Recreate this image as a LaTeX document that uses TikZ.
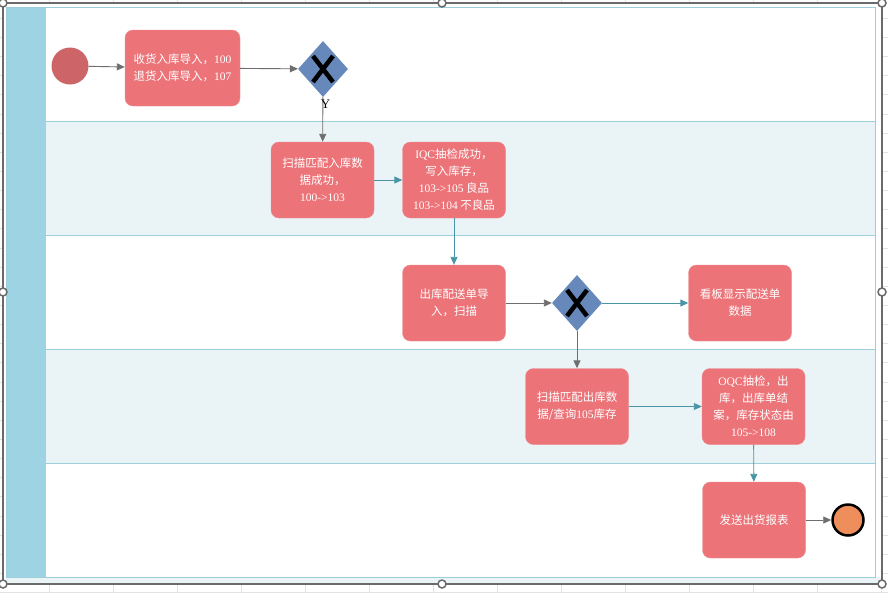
\documentclass[tikz,border=0pt]{standalone}
\usepackage{fontspec}
\setmainfont{Noto Sans CJK SC}
\newfontfamily\tnr{Liberation Serif}
\newcommand\nm[1]{{\tnr #1}}
\usetikzlibrary{arrows.meta,shapes.geometric}
\definecolor{boxfill}{HTML}{EC7479}
\definecolor{startc}{HTML}{CD6467}
\definecolor{endc}{HTML}{EE8E5A}
\definecolor{dia}{HTML}{6688BB}
\definecolor{lanelight}{HTML}{EAF4F7}
\definecolor{band}{HTML}{9DD3E3}
\definecolor{laneline}{HTML}{9CCFDB}
\definecolor{agray}{HTML}{6E6E6E}
\definecolor{ateal}{HTML}{4A95A5}
\definecolor{gridc}{HTML}{E2E2E2}
\definecolor{framec}{HTML}{6A6A6A}
\begin{document}
\begin{tikzpicture}[x=1pt,y=-1pt,
  box/.style={draw=boxfill!85!white, fill=boxfill, rounded corners=8pt, text=white, align=center,
    inner sep=0pt, minimum width=103pt, minimum height=76pt, font=\fontsize{11.5}{17}\selectfont},
  gate/.style={diamond, fill=dia, minimum width=50pt, minimum height=56pt, inner sep=0pt},
  garrow/.style={draw=agray, line width=0.9pt, -{Triangle[length=8pt,width=7pt]}},
  tarrow/.style={draw=ateal, line width=0.9pt, -{Triangle[length=8pt,width=7pt]}},
  xmark/.style={line width=4.5pt, black},
  handle/.style={circle, draw=framec, fill=white, line width=1.5pt, minimum size=8pt, inner sep=0pt}]
\useasboundingbox (0,0) rectangle (888,592);
% spreadsheet grid
\foreach \gx in {49,113,...,881} \draw[gridc, line width=0.8pt] (\gx,0) -- (\gx,592);
\foreach \k in {0,...,30} \draw[gridc, line width=0.8pt] (0,18.3+19.14*\k) -- (888,18.3+19.14*\k);
\fill[white] (3,3) rectangle (882,584);
% light strip under pool
\fill[lanelight] (6,577) rectangle (882,584);
% lanes
\fill[lanelight] (46,121) rectangle (875,235);
\fill[lanelight] (46,349) rectangle (875,463);
\foreach \ly in {121,235,349,463} \draw[laneline, line width=0.9pt] (46,\ly) -- (875,\ly);
\fill[band] (6,7) rectangle (46,577);
\draw[laneline, line width=0.9pt] (6,7) rectangle (875,577);
% selection frame
\draw[framec, line width=1.5pt] (3,3) rectangle (882,584);

% nodes
\node[circle, fill=startc, minimum size=37pt, inner sep=0pt] (s) at (70,66) {};
\node[box, minimum width=115pt] (b1) at (182.5,68) {收货入库导入，\nm{100}\\退货入库导入，\nm{107}};
\node[gate] (d1) at (323,69) {};
\draw[xmark] (313,56) -- (333,82);
\draw[xmark] (333,56) -- (313,82);

\node[box] (b2) at (322.5,180) {扫描匹配入库数\\据成功，\\\nm{100->103}};
\node[box] (b3) at (454,180) {\nm{IQC}抽检成功，\\写入库存，\\\nm{103->105} 良品\\\nm{103->104} 不良品};
\node[box] (b4) at (454,303) {出库配送单导\\入，扫描};
\node[gate] (d2) at (577,303) {};
\draw[xmark] (567,290) -- (587,316);
\draw[xmark] (587,290) -- (567,316);
\node[box] (b5) at (740,303) {看板显示配送单\\数据};
\node[box] (b6) at (577,406.5) {扫描匹配出库数\\据/查询\nm{105}库存};
\node[box] (b7) at (753.5,406.5) {\nm{OQC}抽检，出\\库，出库单结\\案，库存状态由\\\nm{105->108}};
\node[box] (b8) at (754,520) {发送出货报表};
\node[circle, fill=endc, draw=black, line width=2.5pt, minimum size=31pt, inner sep=0pt] (e) at (848,520) {};

% connectors
\draw[garrow] (s) -- (b1);
\draw[garrow] (b1) -- (d1);
\draw[garrow] (d1) -- (b2);
\draw[tarrow] (b2) -- (b3);
\draw[tarrow] (b3) -- (b4);
\draw[garrow] (b4) -- (d2);
\draw[tarrow] (d2) -- (b5);
\draw[garrow] (d2) -- (b6);
\draw[tarrow] (b6) -- (b7);
\draw[tarrow] (b7) -- (b8);
\draw[garrow] (b8) -- (e);
\node[font=\tnr\fontsize{13}{13}\selectfont, inner sep=0pt] (ylab) at (325.5,104) {Y};

% selection handles
\foreach \hx/\hy in {3/3,442/3,882/3,3/292,882/292,3/584,442/584,882/584}
  \node[handle] at (\hx,\hy) {};
\end{tikzpicture}
\end{document}
